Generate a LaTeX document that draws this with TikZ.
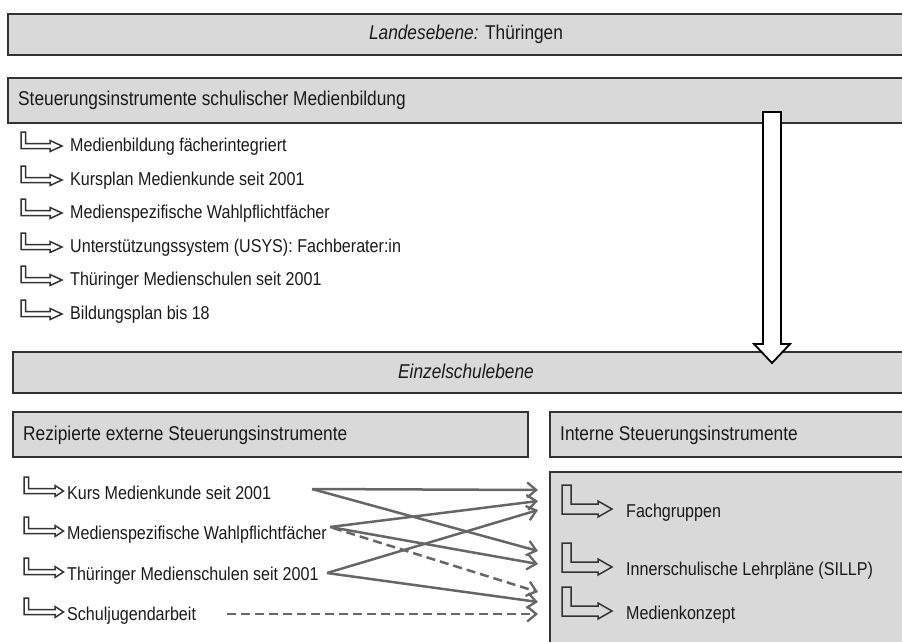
\documentclass[tikz,border=0pt]{standalone}
\usepackage{fontspec}
\setmainfont{Liberation Sans}[FakeStretch=0.865]
\usetikzlibrary{arrows.meta}
\definecolor{boxfill}{HTML}{D9D9D9}
\definecolor{boxline}{HTML}{333333}
\definecolor{linkgray}{HTML}{666666}
\definecolor{ink}{HTML}{1A1A1A}

\begin{document}
\begin{tikzpicture}[x=1pt,y=-1pt,
  box/.style={draw=boxline, fill=boxfill, line width=1.9pt, inner sep=0pt, anchor=north west},
  hdr/.style={font=\fontsize{20}{23}\selectfont, text=ink, inner sep=0pt},
  itm/.style={font=\fontsize{18.6}{21}\selectfont, text=ink, inner sep=0pt, anchor=base west},
  icon/.style={draw=boxline, line width=1.5pt, line join=miter},
  lnk/.style={draw=linkgray, line width=2.5pt, -{Straight Barb[length=9pt,width=15pt,line width=2.3pt]}},
  lnkdash/.style={lnk, dash pattern=on 9pt off 5pt},
  % small hollow L-arrow of the upper list
  topicon/.pic={\path[icon, fill=white] (0,-19) -- (4.5,-19) -- (4.5,-7.5) -- (29,-7.5) -- (29,-10.5)
      -- (41,-5) -- (29,0.5) -- (29,-2.5) -- (0,-2.5) -- cycle;},
  % hollow L-arrow of the lower left list
  lefticon/.pic={\path[icon, fill=white] (0,-22) -- (4.5,-22) -- (4.5,-10.5) -- (31,-10.5) -- (31,-13.5)
      -- (39.5,-8) -- (31,-2.5) -- (31,-5.5) -- (0,-5.5) -- cycle;},
  % larger hollow L-arrow inside the grey box on the right
  righticon/.pic={\path[icon] (0,-32) -- (9,-32) -- (9,-13) -- (36,-13) -- (36,-16)
      -- (50,-8) -- (36,0) -- (36,-3) -- (0,-3) -- cycle;},
]
\useasboundingbox (0,0) rectangle (902,641);

% level boxes
\node[box, minimum width=903pt, minimum height=41pt] (landes) at (7,13) {};
\node[box, minimum width=903pt, minimum height=45pt] (steuer) at (7,77) {};
\node[box, minimum width=898pt, minimum height=41pt] (einzel) at (12,351) {};
\node[box, minimum width=515pt, minimum height=45pt] (rezip) at (12,411) {};
\node[box, minimum width=361pt, minimum height=45pt] (intern) at (549,411) {};
\node[box, minimum width=361pt, minimum height=190pt] (internlist) at (549,471) {};

% hollow arrow from the state level down to the school level
\path[draw=black, fill=white, line width=1.8pt, line join=miter]
  (763,112) -- (781,112) -- (781,344) -- (790,344) -- (772,363)
  -- (754,344) -- (763,344) -- cycle;

% box titles
\node[hdr, anchor=base] (landesT) at (466,39) {\textit{Landesebene:} Thüringen};
\node[hdr, anchor=base west] (steuerT) at (18,105) {Steuerungsinstrumente schulischer Medienbildung};
\node[hdr, anchor=base] (einzelT) at (466,378) {\textit{Einzelschulebene}};
\node[hdr, anchor=base west] (rezipT) at (23,440) {Rezipierte externe Steuerungsinstrumente};
\node[hdr, anchor=base west] (internT) at (560,440) {Interne Steuerungsinstrumente};

% state level instruments
\foreach \b/\t [count=\i] in {151/Medienbildung fächerintegriert,
    185/Kursplan Medienkunde seit 2001,
    218/Medienspezifische Wahlpflichtfächer,
    252/Unterstützungssystem (USYS): Fachberater:in,
    285/Thüringer Medienschulen seit 2001,
    319/Bildungsplan bis 18}{
  \pic at (21,\b) {topicon};
  \node[itm] (land\i) at (70,\b) {\t};
}

% received external instruments
\foreach \b/\t [count=\i] in {499/Kurs Medienkunde seit 2001,
    539/Medienspezifische Wahlpflichtfächer,
    580/Thüringer Medienschulen seit 2001,
    620/Schuljugendarbeit}{
  \pic at (24,\b) {lefticon};
  \node[itm] (ext\i) at (67,\b) {\t};
}

% internal instruments
\foreach \b/\t [count=\i] in {517/Fachgruppen,
    575/Innerschulische Lehrpläne (SILLP),
    619/Medienkonzept}{
  \pic at (562,\b) {righticon};
  \node[itm] (int\i) at (626,\b) {\t};
}

% connector ends
\coordinate (kS) at (312,489);
\coordinate (mS) at (330,527);
\coordinate (mSd) at (333,528);
\coordinate (tS) at (327,573);
\coordinate (sS) at (227,614);
\coordinate (fA) at (538,490);
\coordinate (fB) at (538,501);
\coordinate (fC) at (538,510);
\coordinate (iA) at (538,551);
\coordinate (iB) at (538,564);
\coordinate (kA) at (538,592);
\coordinate (kB) at (538,602);
\coordinate (kC) at (538,614);

% links from external to internal instruments
\draw[lnk] (kS) -- (fA);
\draw[lnk] (kS) -- (iA);
\draw[lnk] (mS) -- (fB);
\draw[lnk] (mS) -- (iB);
\draw[lnkdash] (mSd) -- (kA);
\draw[lnk] (tS) -- (fC);
\draw[lnk] (tS) -- (kB);
\draw[lnkdash] (sS) -- (kC);
\end{tikzpicture}
\end{document}
